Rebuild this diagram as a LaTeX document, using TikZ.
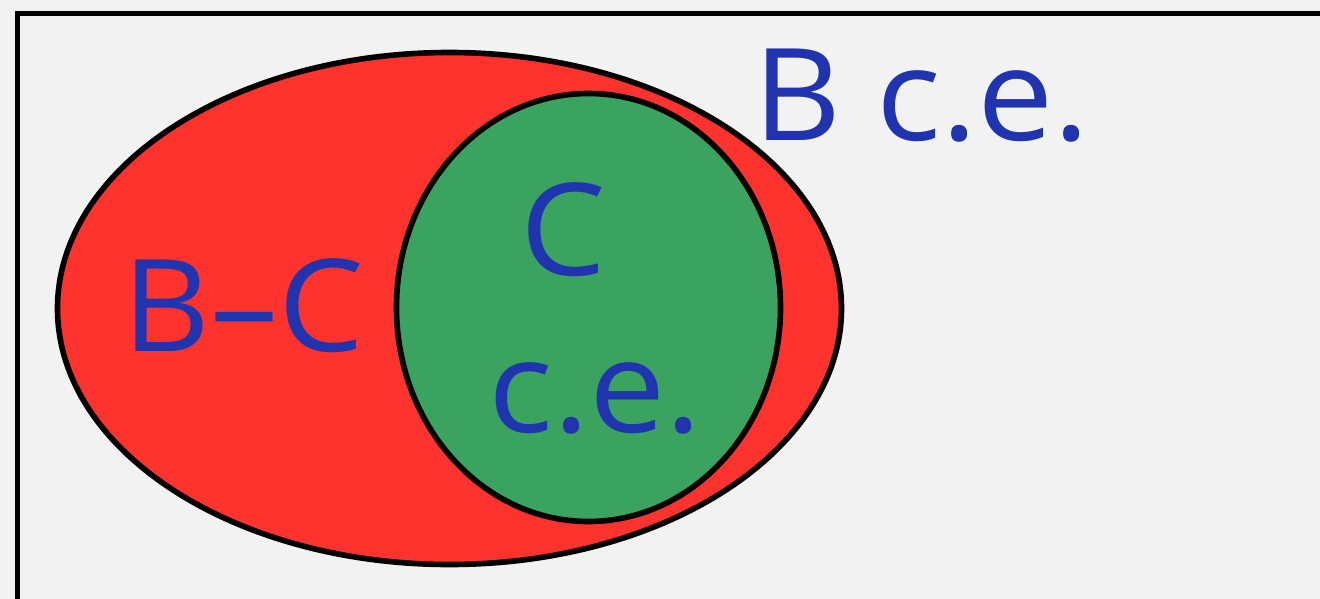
\documentclass[tikz,border=0pt]{standalone}
\usepackage{fontspec}
\usepackage{xcolor}
\setmainfont{Open Sans}
\newfontfamily\vnfont{Open Sans}[FakeStretch=1.06]
\definecolor{PaperCol}{RGB}{242,242,242}
\definecolor{LineCol}{RGB}{0,0,0}
\definecolor{SetRed}{RGB}{255,51,45}
\definecolor{SetGreen}{RGB}{58,163,96}
\definecolor{LabBlue}{RGB}{32,52,175}
\tikzset{
  vnframe/.style={line width=3.1pt, draw=LineCol},
  vnset/.style={line width=3.2pt, draw=LineCol},
  vnlab/.style={font=\vnfont\fontsize{73}{80}\selectfont, text=LabBlue, inner sep=0pt, anchor=base west}
}
\begin{document}
\begin{tikzpicture}[x=0.02cm,y=-0.02cm]
  \useasboundingbox (0,0) rectangle (1320,599);
  \clip (0,0) rectangle (1320,599);
  \fill[PaperCol] (0,0) rectangle (1320,599);
  \draw[vnframe] (17.5,13.5) rectangle (1340,620);
  % the two sets
  \filldraw[vnset, fill=SetRed] (449.5,308.5) ellipse [x radius=392, y radius=256];
  \filldraw[vnset, fill=SetGreen] (588.5,307.5) ellipse [x radius=192, y radius=214];
  % labels
  \node[vnlab] (bce) at (753,140) {B c.e.};
  \node[vnlab] (bminc) at (122,351) {B–C};
  \node[vnlab] (cset) at (520,275) {C};
  \node[vnlab] (cce) at (488,432) {c.e.};
\end{tikzpicture}
\end{document}
